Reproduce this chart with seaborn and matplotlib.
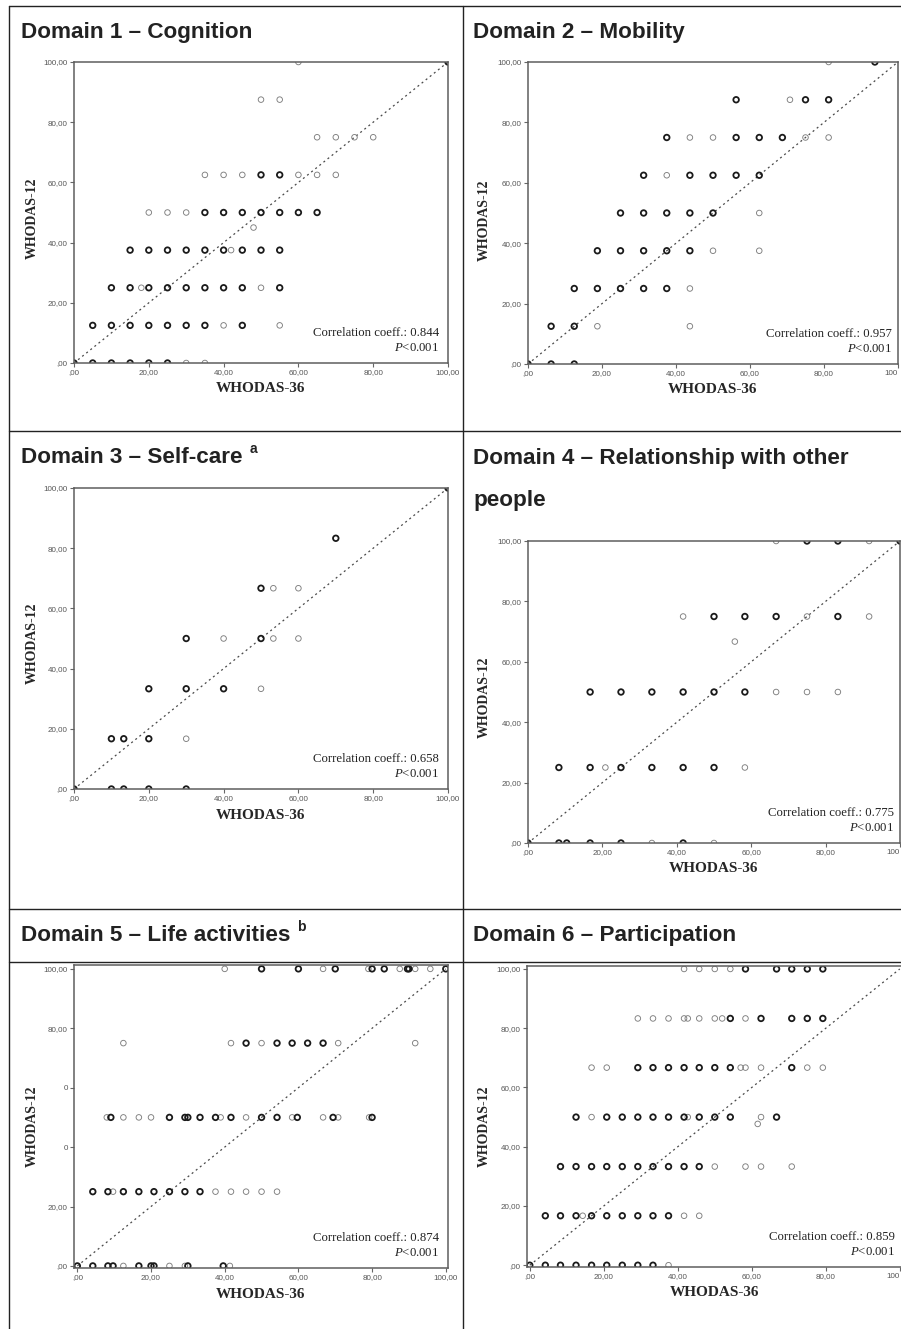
import matplotlib
matplotlib.use("Agg")
import matplotlib.pyplot as plt
import seaborn as sns
import pandas as pd
from matplotlib.lines import Line2D

# ---------------- data ----------------
# WHODAS-36 (x) vs WHODAS-12 (y) domain scores; n = 1 single case, 2 = overlapping cases
d1_x = [60,
        50, 55,
        65, 70, 75, 80,
        35, 40, 45, 50, 55, 60, 65, 70,
        20, 25, 30, 35, 40, 45, 50, 55, 60, 65,
        48,
        15, 20, 25, 30, 35, 40, 42, 45, 50, 55,
        10, 15, 18, 20, 25, 30, 35, 40, 45, 50, 55,
        5, 10, 15, 20, 25, 30, 35, 40, 45, 55,
        0, 5, 10, 15, 20, 25, 30, 35,
        100]
d1_y = [100,
        87.5, 87.5,
        75, 75, 75, 75,
        62.5, 62.5, 62.5, 62.5, 62.5, 62.5, 62.5, 62.5,
        50, 50, 50, 50, 50, 50, 50, 50, 50, 50,
        45,
        37.5, 37.5, 37.5, 37.5, 37.5, 37.5, 37.5, 37.5, 37.5, 37.5,
        25, 25, 25, 25, 25, 25, 25, 25, 25, 25, 25,
        12.5, 12.5, 12.5, 12.5, 12.5, 12.5, 12.5, 12.5, 12.5, 12.5,
        0, 0, 0, 0, 0, 0, 0, 0,
        100]
d1_n = [1,
        1, 1,
        1, 1, 1, 1,
        1, 1, 1, 2, 2, 1, 1, 1,
        1, 1, 1, 2, 2, 2, 2, 2, 2, 2,
        1,
        2, 2, 2, 2, 2, 2, 1, 2, 2, 2,
        2, 2, 1, 2, 2, 2, 2, 2, 2, 1, 2,
        2, 2, 2, 2, 2, 2, 2, 1, 2, 1,
        2, 2, 2, 2, 2, 2, 1, 1,
        2]

d2_x = [81.25, 93.75,
        56.25, 70.8, 75, 81.25,
        37.5, 43.75, 50, 56.25, 62.5, 68.75, 75, 81.25,
        31.25, 37.5, 43.75, 50, 56.25, 62.5,
        25, 31.25, 37.5, 43.75, 50, 62.5,
        18.75, 25, 31.25, 37.5, 43.75, 50, 62.5,
        12.5, 18.75, 25, 31.25, 37.5, 43.75,
        6.25, 12.5, 18.75, 43.75,
        0, 6.25, 12.5]
d2_y = [100, 100,
        87.5, 87.5, 87.5, 87.5,
        75, 75, 75, 75, 75, 75, 75, 75,
        62.5, 62.5, 62.5, 62.5, 62.5, 62.5,
        50, 50, 50, 50, 50, 50,
        37.5, 37.5, 37.5, 37.5, 37.5, 37.5, 37.5,
        25, 25, 25, 25, 25, 25,
        12.5, 12.5, 12.5, 12.5,
        0, 0, 0]
d2_n = [1, 2,
        2, 1, 2, 2,
        2, 1, 1, 2, 2, 2, 1, 1,
        2, 1, 2, 2, 2, 2,
        2, 2, 2, 2, 2, 1,
        2, 2, 2, 2, 2, 1, 1,
        2, 2, 2, 2, 2, 1,
        2, 2, 1, 1,
        2, 2, 2]

d3_x = [100,
        70,
        50, 53.3, 60,
        30, 40, 50, 53.3, 60,
        20, 30, 40, 50,
        10, 13.3, 20, 30,
        0, 10, 13.3, 20, 30]
d3_y = [100,
        83.3,
        66.7, 66.7, 66.7,
        50, 50, 50, 50, 50,
        33.3, 33.3, 33.3, 33.3,
        16.7, 16.7, 16.7, 16.7,
        0, 0, 0, 0, 0]
d3_n = [2,
        2,
        2, 1, 1,
        2, 1, 2, 1, 1,
        2, 2, 2, 1,
        2, 2, 2, 1,
        2, 2, 2, 2, 2]

d4_x = [66.7, 75, 83.3, 91.7, 100,
        41.7, 50, 58.3, 66.7, 75, 83.3, 91.7,
        55.6,
        16.7, 25, 33.3, 41.7, 50, 58.3, 66.7, 75, 83.3,
        8.3, 16.7, 20.8, 25, 33.3, 41.7, 50, 58.3,
        0, 8.3, 10.4, 16.7, 25, 33.3, 41.7, 50]
d4_y = [100, 100, 100, 100, 100,
        75, 75, 75, 75, 75, 75, 75,
        66.7,
        50, 50, 50, 50, 50, 50, 50, 50, 50,
        25, 25, 25, 25, 25, 25, 25, 25,
        0, 0, 0, 0, 0, 0, 0, 0]
d4_n = [1, 2, 2, 1, 2,
        1, 2, 2, 2, 1, 2, 1,
        1,
        2, 2, 2, 2, 2, 2, 1, 1, 1,
        2, 2, 1, 2, 2, 2, 2, 1,
        2, 2, 2, 2, 2, 1, 2, 1]

d5_x = [40, 50, 60, 66.7, 70, 79, 80, 83.3, 87.5, 89.6, 90, 91.7, 95.8, 100,
        12.5, 41.7, 45.8, 50, 54.2, 58.3, 62.5, 66.7, 70.8, 91.7,
        8, 9.1, 12.5, 16.7, 20, 25, 29.2, 30, 33.3, 37.5, 38.9, 41.7, 45.8, 50,
        54.2, 58.3, 59.7, 66.7, 69.4, 70.8, 79.2, 80,
        4.2, 8.3, 9.7, 12.5, 16.7, 20.8, 25, 29.2, 33.3, 37.5, 41.7, 45.8, 50, 54.2,
        0, 4.2, 8.3, 9.7, 12.5, 16.7, 20, 20.8, 25, 29.2, 30, 39.6, 41.4]
d5_y = [100, 100, 100, 100, 100, 100, 100, 100, 100, 100, 100, 100, 100, 100,
        75, 75, 75, 75, 75, 75, 75, 75, 75, 75,
        50, 50, 50, 50, 50, 50, 50, 50, 50, 50, 50, 50, 50, 50,
        50, 50, 50, 50, 50, 50, 50, 50,
        25, 25, 25, 25, 25, 25, 25, 25, 25, 25, 25, 25, 25, 25,
        0, 0, 0, 0, 0, 0, 0, 0, 0, 0, 0, 0, 0]
d5_n = [1, 2, 2, 1, 2, 1, 2, 2, 1, 2, 2, 1, 1, 2,
        1, 1, 2, 1, 2, 2, 2, 2, 1, 1,
        1, 2, 1, 1, 1, 2, 2, 2, 2, 2, 1, 2, 1, 2,
        2, 1, 2, 1, 2, 1, 1, 2,
        2, 2, 1, 2, 2, 2, 2, 2, 2, 1, 1, 1, 1, 1,
        2, 2, 2, 2, 1, 2, 2, 2, 1, 1, 2, 2, 1]

d6_x = [41.7, 45.8, 50, 54.2, 58.3, 66.7, 70.8, 75, 79.2,
        29.2, 33.3, 37.5, 41.7, 42.7, 45.8, 50, 52, 54.2, 58.3, 62.5, 70.8, 75, 79.2,
        16.7, 20.8, 29.2, 33.3, 37.5, 41.7, 45.8, 50, 54.2, 57, 58.3, 62.5, 70.8, 75, 79.2,
        12.5, 16.7, 20.8, 25, 29.2, 33.3, 37.5, 41.7, 42.7, 45.8, 50, 54.2, 62.5, 66.7,
        61.6,
        8.3, 12.5, 16.7, 20.8, 25, 29.2, 33.3, 37.5, 41.7, 45.8, 50, 58.3, 62.5, 70.8,
        4.2, 8.3, 12.5, 14.3, 16.7, 20.8, 25, 29.2, 33.3, 37.5, 41.7, 45.8,
        0, 4.2, 8.3, 12.5, 16.7, 20.8, 25, 29.2, 33.3, 37.5]
d6_y = [100, 100, 100, 100, 100, 100, 100, 100, 100,
        83.3, 83.3, 83.3, 83.3, 83.3, 83.3, 83.3, 83.3, 83.3, 83.3, 83.3, 83.3, 83.3, 83.3,
        66.7, 66.7, 66.7, 66.7, 66.7, 66.7, 66.7, 66.7, 66.7, 66.7, 66.7, 66.7, 66.7, 66.7, 66.7,
        50, 50, 50, 50, 50, 50, 50, 50, 50, 50, 50, 50, 50, 50,
        47.7,
        33.3, 33.3, 33.3, 33.3, 33.3, 33.3, 33.3, 33.3, 33.3, 33.3, 33.3, 33.3, 33.3, 33.3,
        16.7, 16.7, 16.7, 16.7, 16.7, 16.7, 16.7, 16.7, 16.7, 16.7, 16.7, 16.7,
        0, 0, 0, 0, 0, 0, 0, 0, 0, 0]
d6_n = [1, 1, 1, 1, 2, 2, 2, 2, 2,
        1, 1, 1, 1, 1, 1, 1, 1, 2, 1, 2, 2, 2, 2,
        1, 1, 2, 2, 2, 2, 2, 2, 2, 1, 1, 1, 2, 1, 1,
        2, 1, 2, 2, 2, 2, 2, 2, 1, 2, 2, 2, 1, 2,
        1,
        2, 2, 2, 2, 2, 2, 2, 2, 2, 2, 1, 1, 1, 1,
        2, 2, 2, 1, 2, 2, 2, 2, 2, 2, 1, 1,
        2, 2, 2, 2, 2, 2, 2, 2, 2, 1]

titles = ["Domain 1 \u2013 Cognition", "Domain 2 \u2013 Mobility",
          "Domain 3 \u2013 Self-care", "Domain 4 \u2013 Relationship with other",
          "Domain 5 \u2013 Life activities", "Domain 6 \u2013 Participation"]
title_notes = ["", "", "a", "", "b", ""]
corr = ["0.844", "0.957", "0.658", "0.775", "0.874", "0.859"]
ref_line = [0, 100]
ticks = [0, 20, 40, 60, 80, 100]
tick_labels = [",00", "20,00", "40,00", "60,00", "80,00", "100,00"]
tick_labels_right = [",00", "20,00", "40,00", "60,00", "80,00", "100"]
tick_labels_d5 = [",00", "20,00", "0", "0", "80,00", "100,00"]

# ---------------- style ----------------
sns.set_style("ticks")
plt.rcParams["font.family"] = ["Liberation Sans", "DejaVu Sans"]
plt.rcParams["mathtext.fontset"] = "custom"
plt.rcParams["mathtext.rm"] = "Liberation Serif"
plt.rcParams["mathtext.it"] = "Liberation Serif:italic"

W, H = 901, 1329
fig = plt.figure(figsize=(W / 100, H / 100), dpi=100)
fig.patch.set_facecolor("white")

# table grid lines (pixel positions)
def hline(y, x0=9, x1=901):
    fig.add_artist(Line2D([x0 / W, x1 / W], [1 - y / H, 1 - y / H], color="#222222", lw=1.0))

def vline(x, y0=6, y1=1329):
    fig.add_artist(Line2D([x / W, x / W], [1 - y0 / H, 1 - y1 / H], color="#222222", lw=1.0))

for y in [6, 431, 909, 962]:
    hline(y)
for x in [9, 463]:
    vline(x)

# panel layout: axes box in px (left, top, right, bottom), limits, title baseline, ylabel offsets
layout = [
    dict(box=(74, 62, 448, 363), lim=(0, 100, 0, 100), tx=21, ty=38, ylx=42, yly=6, cx=9),
    dict(box=(528, 62, 898, 364), lim=(0, 100, 0, 100), tx=473, ty=38, ylx=44, yly=7, cx=6),
    dict(box=(74, 488, 448, 789), lim=(0, 100, 0, 100), tx=21, ty=463, ylx=42, yly=5, cx=9),
    dict(box=(528, 541, 900, 843), lim=(0, 100, 0, 100), tx=473, ty=464, ylx=44, yly=5, cx=6),
    dict(box=(74, 965, 448, 1268), lim=(-0.9, 100.6, -0.7, 101.3), tx=21, ty=941, ylx=42, yly=10, cx=9),
    dict(box=(527, 966, 902, 1267), lim=(-0.75, 100.6, -0.6, 101), tx=473, ty=941, ylx=43, yly=10, cx=7),
]
series = [(d1_x, d1_y, d1_n), (d2_x, d2_y, d2_n), (d3_x, d3_y, d3_n),
          (d4_x, d4_y, d4_n), (d5_x, d5_y, d5_n), (d6_x, d6_y, d6_n)]

title_texts = []
for i, (lay, (xs, ys, ns)) in enumerate(zip(layout, series)):
    l, t, r, b = lay["box"]
    ax = fig.add_axes([l / W, 1 - b / H, (r - l) / W, (b - t) / H])
    df = pd.DataFrame({"x": xs, "y": ys, "n": ns})

    ax.plot(ref_line, ref_line, color="#4a4a4a", lw=0.9, linestyle=(0, (1.6, 2.6)), zorder=1.5)
    for n, col, lw in [(1, "#7e7e7e", 0.65), (2, "#1a1a1a", 1.3)]:
        sub = df[df["n"] == n]
        sns.scatterplot(data=sub, x="x", y="y", ax=ax, marker="o", s=16,
                        facecolors="none", edgecolor=col, linewidth=lw, zorder=2.2)

    x0, x1, y0, y1 = lay["lim"]
    ax.set_xlim(x0, x1)
    ax.set_ylim(y0, y1)
    right_col = i % 2 == 1
    ax.set_xticks(ticks)
    ax.set_xticklabels(tick_labels_right if right_col else tick_labels)
    if right_col:
        ax.get_xticklabels()[-1].set_ha("right")
    ax.set_yticks(ticks)
    ax.set_yticklabels(tick_labels_d5 if i == 4 else tick_labels)
    ax.tick_params(length=3, width=0.8, color="#666666", labelsize=5.8,
                   labelcolor="#555555", pad=1.5, direction="out")
    for sp in ax.spines.values():
        sp.set_visible(True)
        sp.set_color("#5e5e5e")
        sp.set_linewidth(1.1)

    wpx, hpx = r - l, b - t
    ax.set_xlabel("WHODAS-36", fontsize=11, fontweight="bold",
                  family="Liberation Serif", va="center")
    ax.xaxis.set_label_coords(0.5, -26 / hpx)
    ax.set_ylabel("WHODAS-12", fontsize=10, fontweight="bold",
                  family="Liberation Serif", va="center")
    ax.yaxis.set_label_coords(-lay["ylx"] / wpx, 0.5 - lay["yly"] / hpx)

    ax.annotate("Correlation coeff.: " + corr[i], xy=(1, 0), xycoords="axes fraction",
                xytext=(-lay["cx"] * 0.72, 30 * 0.72), textcoords="offset points",
                ha="right", va="center", fontsize=9.2, family="Liberation Serif",
                color="#222222")
    ax.annotate("$P$<0.001", xy=(1, 0), xycoords="axes fraction",
                xytext=(-lay["cx"] * 0.72, 15 * 0.72), textcoords="offset points",
                ha="right", va="center", fontsize=9.2, family="Liberation Serif",
                color="#222222")

    tt = fig.text(lay["tx"] / W, 1 - lay["ty"] / H, titles[i], fontsize=16.2,
                  fontweight="bold", color="#222222", va="baseline", ha="left")
    title_texts.append(tt)

# second line of the Domain 4 title
fig.text(473 / W, 1 - 506 / H, "people", fontsize=16.2, fontweight="bold",
         color="#222222", va="baseline", ha="left")

# superscript notes after titles 3 and 5
fig.canvas.draw()
rend = fig.canvas.get_renderer()
for tt, note, lay in zip(title_texts, title_notes, layout):
    if note:
        bb = tt.get_window_extent(rend)
        fig.text((bb.x1 + 7) / W, 1 - (lay["ty"] - 10) / H, note, fontsize=10,
                 fontweight="bold", color="#222222", va="baseline", ha="left")

fig.savefig("out.png", dpi=100, facecolor="white")
